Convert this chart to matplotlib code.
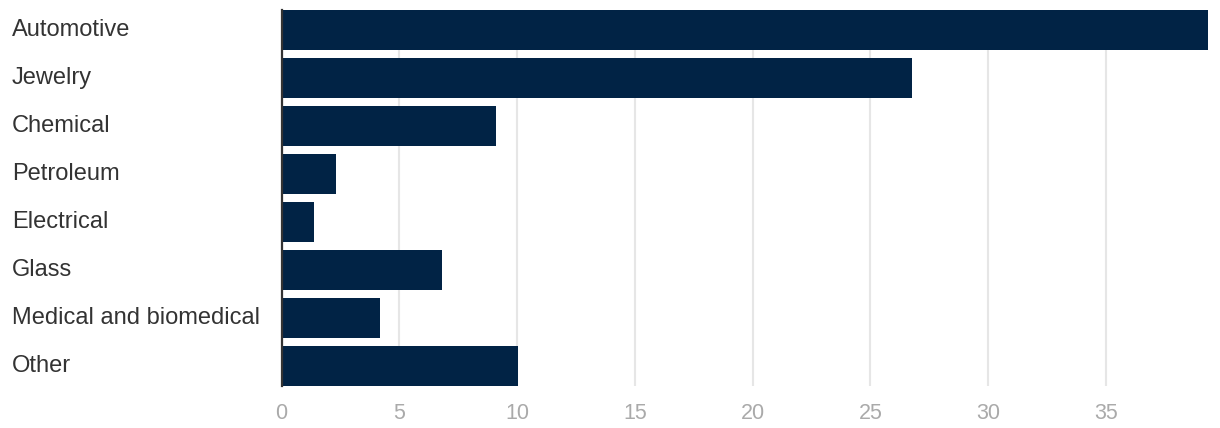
import matplotlib
matplotlib.use("Agg")
import matplotlib.pyplot as plt
from matplotlib.transforms import blended_transform_factory

categories = ["Automotive", "Jewelry", "Chemical", "Petroleum", "Electrical",
              "Glass", "Medical and biomedical", "Other"]
values = [39.34, 26.76, 9.10, 2.31, 1.38, 6.81, 4.18, 10.04]
xticks = [0, 5, 10, 15, 20, 25, 30, 35]

W, H = 1220, 428
fig = plt.figure(figsize=(W / 100, H / 100), dpi=100)
left, right, top, bottom = 281.5, 1208.3, 10, 386
ax = fig.add_axes([left / W, 1 - bottom / H, (right - left) / W, (bottom - top) / H])

bar_h = 40 / 48
ypos = list(range(len(categories)))
ax.barh(ypos, values, height=bar_h, color="#012345", zorder=3)
ax.set_ylim(len(categories) - 1 + bar_h / 2, -bar_h / 2)
ax.set_xlim(0, max(values))

ax.set_xticks(xticks)
ax.set_xticklabels([str(t) for t in xticks], family=["Liberation Sans", "DejaVu Sans"],
                   fontstretch="condensed", fontsize=15.5, color="#aaaaaa")
ax.tick_params(axis="x", length=0, pad=12)
ax.grid(axis="x", color="#e6e6e6", linewidth=1.5, zorder=0)
ax.set_yticks([])

for s in ["top", "right", "bottom"]:
    ax.spines[s].set_visible(False)
ax.spines["left"].set_color("#333333")
ax.spines["left"].set_linewidth(1.6)
ax.spines["left"].set_zorder(4)

tr = blended_transform_factory(fig.transFigure, ax.transData)
for y, c in zip(ypos, categories):
    ax.text(12 / W, y, c, transform=tr, ha="left", va="center", fontsize=17,
            fontstretch="normal", color="#333333",
            family=["Liberation Sans", "DejaVu Sans"])

fig.savefig("out.png", dpi=100)
